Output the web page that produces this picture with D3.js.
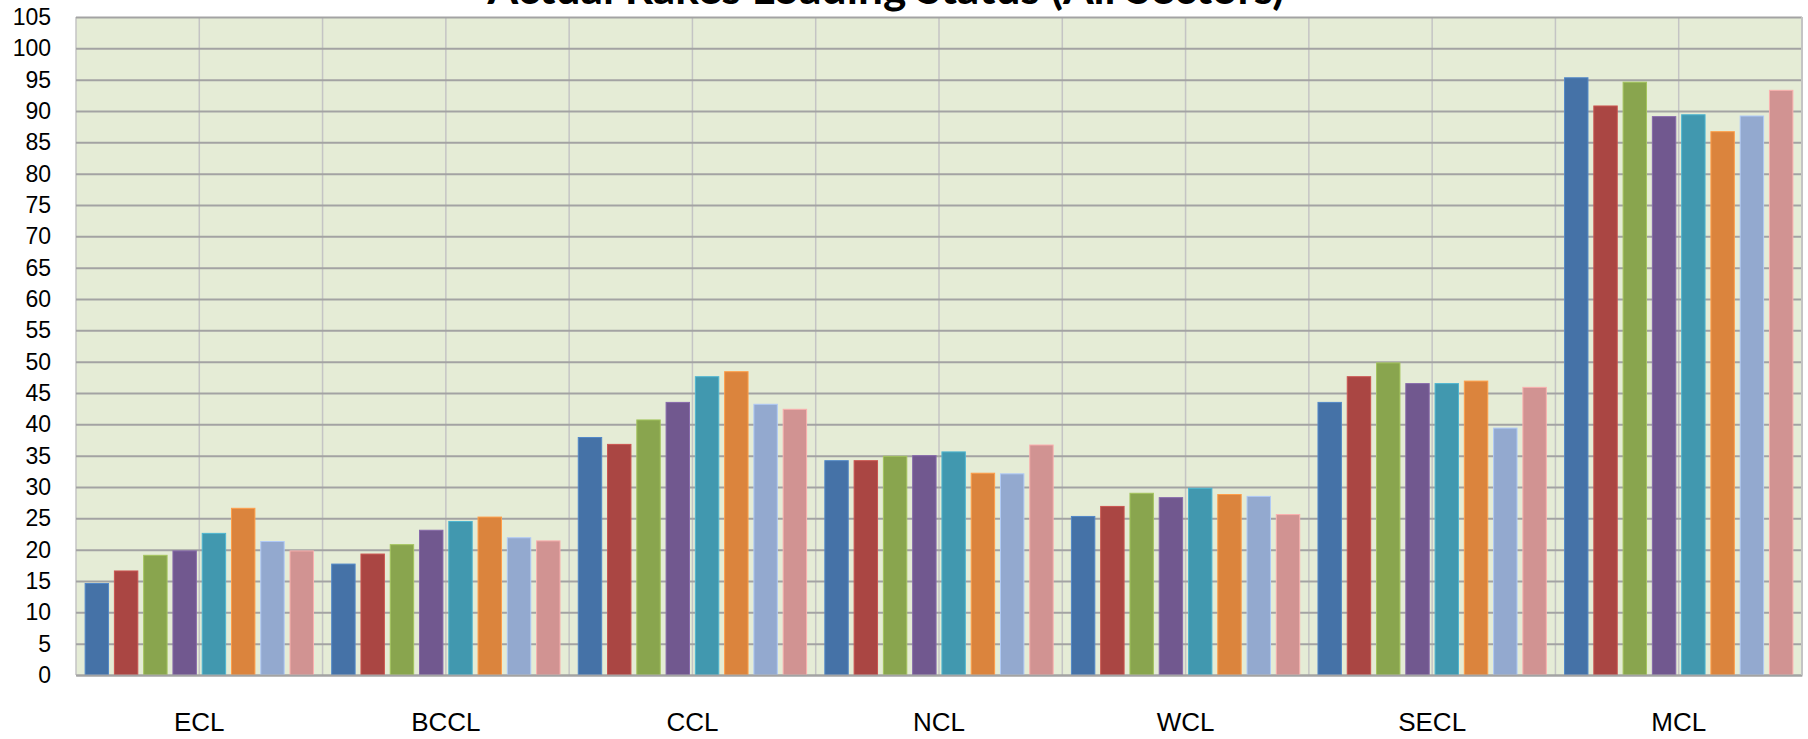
<!DOCTYPE html>
<html>
<head>
<meta charset="utf-8">
<script src="https://cdn.jsdelivr.net/npm/d3@7"></script>
<style>
  body { margin: 0; background: #fff; }
  svg { display: block; font-family: Lato, "Open Sans", sans-serif; }
</style>
</head>
<body>
<div id="chart"></div>
<script>
// Rakes loaded per company, eight series per company.
const categories = ['ECL', 'BCCL', 'CCL', 'NCL', 'WCL', 'SECL', 'MCL'];
const ecl  = [14.6, 16.6, 19.1, 19.8, 22.6, 26.6, 21.3, 19.8];
const bccl = [17.7, 19.3, 20.8, 23.1, 24.5, 25.2, 21.9, 21.4];
const ccl  = [37.9, 36.8, 40.7, 43.5, 47.6, 48.4, 43.2, 42.4];
const ncl  = [34.2, 34.2, 34.9, 35.0, 35.6, 32.2, 32.1, 36.7];
const wcl  = [25.3, 26.9, 29.0, 28.3, 29.8, 28.8, 28.5, 25.6];
const secl = [43.5, 47.6, 49.8, 46.5, 46.5, 46.9, 39.4, 45.9];
const mcl  = [95.3, 90.8, 94.6, 89.1, 89.4, 86.7, 89.2, 93.3];
const seriesColors = ['#4572A7', '#AA4643', '#89A54E', '#71588F',
                      '#4198AF', '#DB843D', '#93A9CF', '#D19392'];
const yTicks = d3.range(0, 106, 5);
const title = 'Actual Rakes Loading Status (All Sectors)';

const values = {ECL: ecl, BCCL: bccl, CCL: ccl, NCL: ncl, WCL: wcl, SECL: secl, MCL: mcl};

const width = 1808, height = 739;
const margin = {top: 17, right: 6, bottom: 64, left: 76};

let svg = d3.select('#chart')
  .append('svg')
    .attr('width', width)
    .attr('height', height);

let x0 = d3.scaleBand()
  .domain(categories)
  .range([margin.left, width - margin.right])
  .padding(0);
let B = x0.bandwidth();
let x1 = d3.scaleBand()
  .domain(d3.range(seriesColors.length))
  .range([0.037 * B, B - 0.037 * B])
  .paddingInner(0.2)
  .paddingOuter(0);
let y = d3.scaleLinear()
  .domain([0, 105])
  .range([height - margin.bottom, margin.top]);

// plot background
svg.append('rect')
  .attr('x', margin.left)
  .attr('y', margin.top)
  .attr('width', width - margin.left - margin.right)
  .attr('height', height - margin.top - margin.bottom)
  .attr('fill', '#E5ECD6');

// vertical gridlines at every half category
let halfLines = [];
categories.forEach((c) => {
  halfLines.push(x0(c));
  halfLines.push(x0(c) + B / 2);
});
halfLines.push(width - margin.right);
svg.append('g')
  .attr('class', 'v-grid')
  .selectAll('line')
  .data(halfLines)
  .enter().append('line')
    .attr('x1', (d) => d).attr('x2', (d) => d)
    .attr('y1', margin.top).attr('y2', height - margin.bottom)
    .attr('stroke', '#c4c4c4')
    .attr('stroke-width', 1.5);

// horizontal gridlines + y labels
let yAxis = svg.append('g')
  .attr('transform', 'translate(' + margin.left + ',0)')
  .call(d3.axisLeft(y)
    .tickValues(yTicks)
    .tickSize(-(width - margin.left - margin.right))
    .tickPadding(25)
    .tickFormat(d3.format('d')));
yAxis.select('.domain').remove();
yAxis.selectAll('.tick line')
  .attr('stroke', '#a3a3a3')
  .attr('stroke-width', 2);
yAxis.selectAll('.tick text')
  .attr('fill', '#000')
  .style('font-size', '23px');

// bars
let groups = svg.append('g')
  .attr('class', 'bars')
  .selectAll('g')
  .data(categories)
  .enter().append('g')
    .attr('transform', (c) => 'translate(' + x0(c) + ',0)');

groups.selectAll('rect')
  .data((c) => values[c].map((v, i) => ({i: i, v: v})))
  .enter().append('rect')
    .attr('x', (d) => x1(d.i))
    .attr('width', x1.bandwidth())
    .attr('y', (d) => y(d.v))
    .attr('height', (d) => y(0) - y(d.v))
    .attr('fill', (d) => seriesColors[d.i])
    .attr('stroke', (d) => d3.color(seriesColors[d.i]).brighter(0.5))
    .attr('stroke-width', 1);

// x axis line and labels
let xAxis = svg.append('g')
  .attr('transform', 'translate(0,' + y(0) + ')')
  .call(d3.axisBottom(x0).tickSize(0).tickPadding(38));
xAxis.select('.domain')
  .attr('stroke', '#a3a3a3')
  .attr('stroke-width', 2);
xAxis.selectAll('.tick text')
  .attr('fill', '#000')
  .style('font-size', '26px');

// right border
svg.append('line')
  .attr('x1', width - margin.right).attr('x2', width - margin.right)
  .attr('y1', margin.top).attr('y2', height - margin.bottom)
  .attr('stroke', '#c4c4c4')
  .attr('stroke-width', 2);

// title, clipped by the top of the page like the original
let t = svg.append('text')
  .attr('x', 886)
  .attr('y', 4)
  .attr('text-anchor', 'middle')
  .style('font-weight', 'bold')
  .style('font-size', '36px')
  .text(title);
let tw = t.node().getComputedTextLength();
t.style('font-size', (36 * 797 / tw).toFixed(1) + 'px');
</script>
</body>
</html>
